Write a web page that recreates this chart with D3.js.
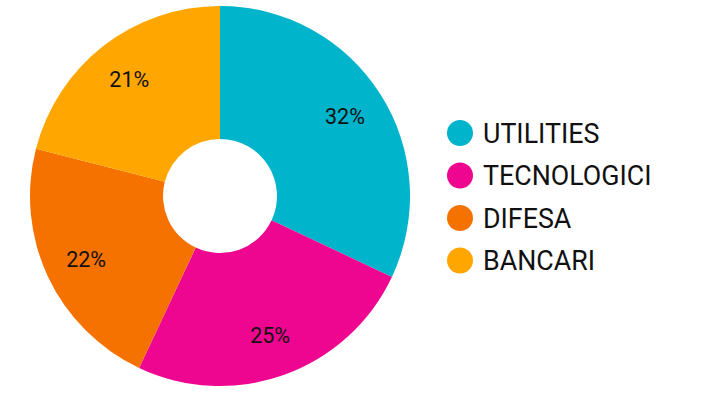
<!DOCTYPE html>
<html><head><meta charset="utf-8">
<script src="https://cdn.jsdelivr.net/npm/d3@7"></script>
<style>html,body{margin:0;padding:0;background:#fff;}svg{display:block;font-family:Roboto,"Noto Sans",sans-serif;}</style>
</head><body>
<svg id="c" width="712" height="408"></svg>
<script>
const categories = ["UTILITIES", "TECNOLOGICI", "DIFESA", "BANCARI"];
const values = [32, 25, 22, 21];
const colors = ["#00b4cc", "#ee0590", "#f67200", "#ffa700"];

const svg = d3.select("#c");
const cx = 220, cy = 196, outerR = 190, innerR = 57, labelR = 148;
const data = categories.map((c, i) => ({cat: c, value: values[i], color: colors[i]}));
const pie = d3.pie().value(d => d.value).sort(null);
const arc = d3.arc().innerRadius(innerR).outerRadius(outerR);
const labelArc = d3.arc().innerRadius(labelR).outerRadius(labelR);
const g = svg.append("g").attr("transform", `translate(${cx},${cy})`);
const arcs = pie(data);
g.selectAll("path").data(arcs).join("path")
  .attr("d", arc).attr("fill", d => d.data.color);
const total = d3.sum(values);
g.selectAll("text").data(arcs).join("text")
  .attr("transform", d => `translate(${labelArc.centroid(d)})`)
  .attr("text-anchor", "middle").attr("dy", "0.36em")
  .attr("font-size", 21.5).attr("fill", "#111")
  .text(d => Math.round(d.data.value / total * 100) + "%");

const leg = svg.append("g");
const ly = d3.scaleLinear().domain([0, 1]).range([133, 175.5]);
const items = leg.selectAll("g").data(data).join("g")
  .attr("transform", (d, i) => `translate(460,${ly(i)})`);
items.append("circle").attr("r", 13).attr("fill", d => d.color);
items.append("text").attr("x", 23).attr("dy", "0.36em")
  .attr("font-size", 26.8).attr("fill", "#111").text(d => d.cat);
</script>
</body></html>
